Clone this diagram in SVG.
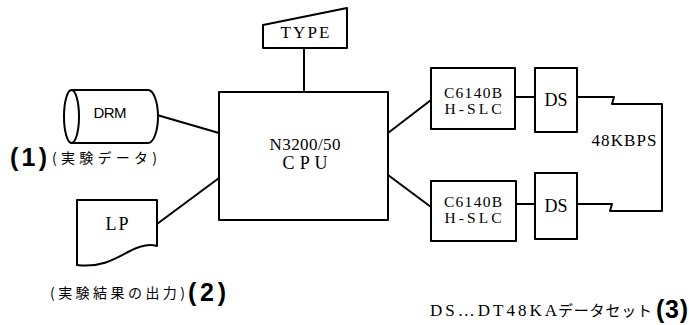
<svg xmlns="http://www.w3.org/2000/svg" width="689" height="325" viewBox="0 0 689 325">
<style>
.s{fill:none;stroke:#000;stroke-width:2;stroke-linejoin:round;stroke-linecap:round}
.b{fill:#fff;stroke:#000;stroke-width:2;stroke-linejoin:round}
.t{font-family:"Liberation Serif","DejaVu Serif",serif;fill:#000;text-anchor:middle}
.ts{font-family:"Liberation Sans","DejaVu Sans",sans-serif;fill:#000;text-anchor:middle}
.jp{font-family:"Noto Sans CJK JP","Noto Sans CJK SC",sans-serif;fill:#000}
.n{font-family:"Liberation Sans","DejaVu Sans",sans-serif;font-weight:bold;fill:#000}
.m{font-family:"Liberation Serif","DejaVu Serif",serif;fill:#000}
</style>
<rect width="689" height="325" fill="#fff"/>
<g id="connectors">
<line class="s" x1="304" y1="48" x2="304" y2="92"/>
<line class="s" x1="157" y1="115" x2="219" y2="133"/>
<line class="s" x1="157" y1="224" x2="219" y2="178"/>
<line class="s" x1="388" y1="133" x2="431" y2="100"/>
<line class="s" x1="388" y1="175" x2="431" y2="207"/>
<line class="s" x1="515" y1="97" x2="535" y2="97"/>
<line class="s" x1="516" y1="204" x2="535" y2="204"/>
<path class="s" d="M577,97 H614 L612,104 H662 V211 H610 L612,204 H577"/>
</g>
<g id="type">
<path class="b" d="M263,25 L347,8 L347,48 L263,48 Z"/>
<text class="t" x="305" y="38" font-size="17" textLength="49">TYPE</text>
</g>
<g id="cpu">
<rect class="b" x="219" y="92" width="169" height="128"/>
<text class="t" x="305" y="150" font-size="17" textLength="71">N3200/50</text>
<text class="t" x="305" y="169" font-size="18" textLength="45">C P U</text>
</g>
<g id="drm">
<path class="b" d="M71.5,90 H148 A10,26.5 0 0 1 148,143 H71.5 Z"/>
<ellipse class="b" cx="71.5" cy="116.5" rx="7.5" ry="26.5"/>
<text class="ts" x="110" y="118" font-size="15" textLength="33">DRM</text>
</g>
<g id="lp">
<path class="b" d="M77,200 H157 V246 C148,243 139,246 128,252 C115,259 100,268 77,265 Z"/>
<text class="t" x="117" y="230" font-size="18" textLength="23">LP</text>
</g>
<g id="hslc1">
<rect class="b" x="431" y="68" width="84" height="61"/>
<text class="t" x="473" y="98" font-size="15.5" textLength="58">C6140B</text>
<text class="t" x="473" y="114" font-size="15.5" textLength="57">H-SLC</text>
</g>
<g id="hslc2">
<rect class="b" x="431" y="181" width="85" height="60"/>
<text class="t" x="473" y="207" font-size="15.5" textLength="58">C6140B</text>
<text class="t" x="473" y="223" font-size="15.5" textLength="57">H-SLC</text>
</g>
<g id="ds1">
<rect class="b" x="535" y="68" width="42" height="64"/>
<text class="t" x="556" y="106" font-size="18" textLength="23">DS</text>
</g>
<g id="ds2">
<rect class="b" x="535" y="173" width="42" height="66"/>
<text class="t" x="556" y="212" font-size="18" textLength="23">DS</text>
</g>
<g id="labels">
<text class="t" x="624" y="146" font-size="17" textLength="65">48KBPS</text>
<text class="n" x="10" y="166" font-size="25" textLength="37">(1)</text>
<text class="jp" x="52" y="163" font-size="14" textLength="105">(実験データ)</text>
<text class="jp" x="50" y="298" font-size="14" textLength="135">(実験結果の出力)</text>
<text class="n" x="188" y="301" font-size="25" textLength="38">(2)</text>
<text class="m" x="430" y="316" font-size="17" textLength="127">DS…DT48KA</text>
<text class="jp" x="558" y="316" font-size="15" textLength="94">データセット</text>
<text class="n" x="656" y="318" font-size="25" textLength="32">(3)</text>
</g>
</svg>
